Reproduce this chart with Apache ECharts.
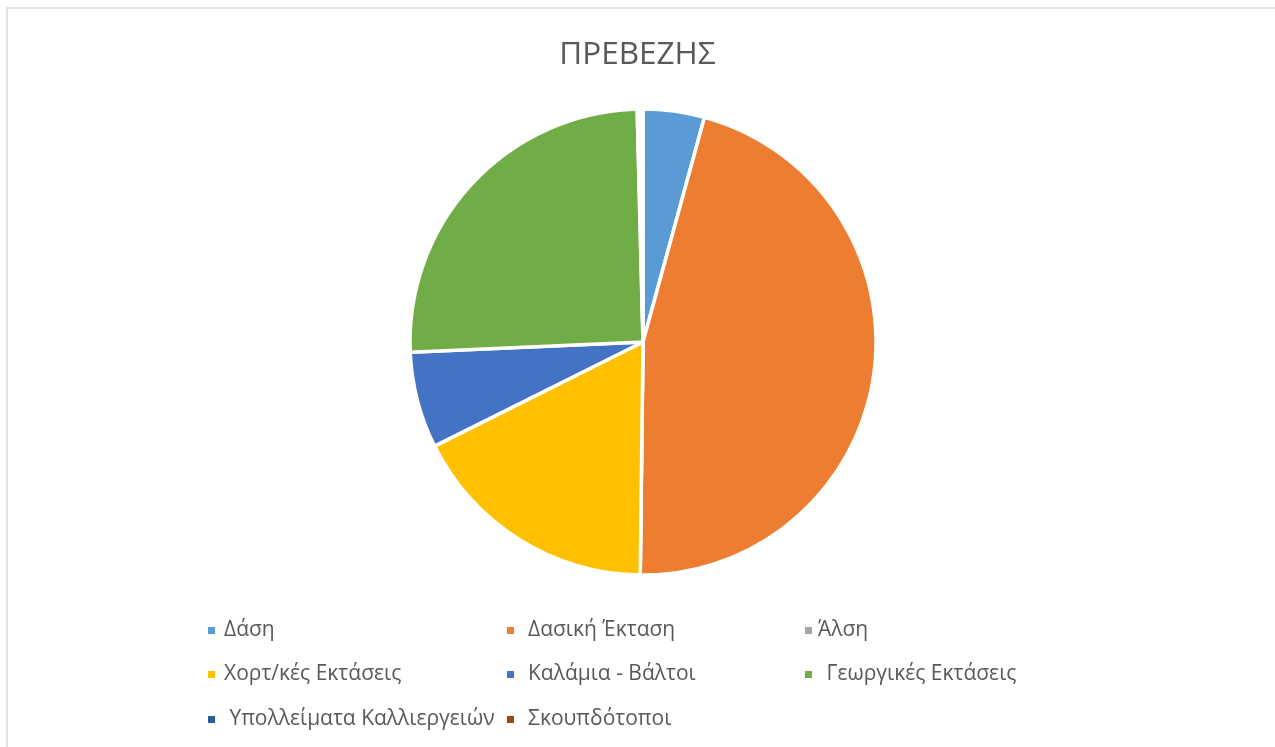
<!DOCTYPE html>
<html>
<head>
<meta charset="utf-8">
<script src="https://cdn.jsdelivr.net/npm/echarts@6/dist/echarts.min.js"></script>
<style>
    html, body { margin: 0; padding: 0; background: #fff; }
    #chart { width: 1275px; height: 747px; }
</style>
</head>
<body>
<div id="chart"></div>
<script>
// κατηγορίες και τιμές (% της έκτασης, εκτίμηση από την εικόνα)
const categories = ['Δάση', 'Δασική Έκταση', 'Άλση', 'Χορτ/κές Εκτάσεις', 'Καλάμια - Βάλτοι', ' Γεωργικές Εκτάσεις', ' Υπολλείματα Καλλιεργειών', 'Σκουπδότοποι']
const values = [4.25, 45.94, 0, 17.44, 6.67, 25.3, 0.2, 0.2]
const colors = ['#5B9BD5', '#ED7D31', '#A5A5A5', '#FFC000', '#4472C4', '#70AD47', '#255E91', '#9E480E']

const chartTitle = 'ΠΡΕΒΕΖΗΣ'
const textColor = '#595959'
const fontFamily = '"Open Sans", "Noto Sans", sans-serif'

// θέσεις υπομνήματος (3 στήλες), το legend έχει padding 5
const legendCols = [201, 500, 798]
const legendRows = [615, 659, 704]
const legendTextPad = [3, 8, 0, 3, 8, 3, 3, 8]

const chart = echarts.init(document.getElementById('chart'))

const legends = categories.map((name, i) => {
    return {
        data: [name],
        left: legendCols[i % 3],
        top: legendRows[Math.floor(i / 3)],
        icon: 'rect',
        itemWidth: 9,
        itemHeight: 9,
        itemGap: 0,
        selectedMode: false,
        textStyle: {
            color: textColor,
            fontSize: 21,
            fontFamily: fontFamily,
            padding: [0, 0, 0, legendTextPad[i]]
        }
    }
})

const option = {
    animation: false,
    backgroundColor: '#fff',
    color: colors,
    title: {
        text: chartTitle,
        left: 'center',
        top: 34,
        textStyle: {
            color: textColor,
            fontSize: 31.5,
            fontWeight: 'normal',
            fontFamily: fontFamily
        }
    },
    legend: legends,
    graphic: [{
        type: 'rect',
        shape: { x: 7, y: 8, width: 1300, height: 800 },
        style: { fill: 'none', stroke: '#d9d9d9', lineWidth: 1.5 },
        silent: true
    }],
    series: [{
        type: 'pie',
        center: [643, 342],
        radius: [0, 233],
        startAngle: 90,
        clockwise: true,
        label: { show: false },
        labelLine: { show: false },
        emphasis: { disabled: true },
        itemStyle: {
            borderColor: '#fff',
            borderWidth: 3.5
        },
        data: categories.map((name, i) => ({ name: name, value: values[i] }))
    }]
}

chart.setOption(option)
</script>
</body>
</html>
